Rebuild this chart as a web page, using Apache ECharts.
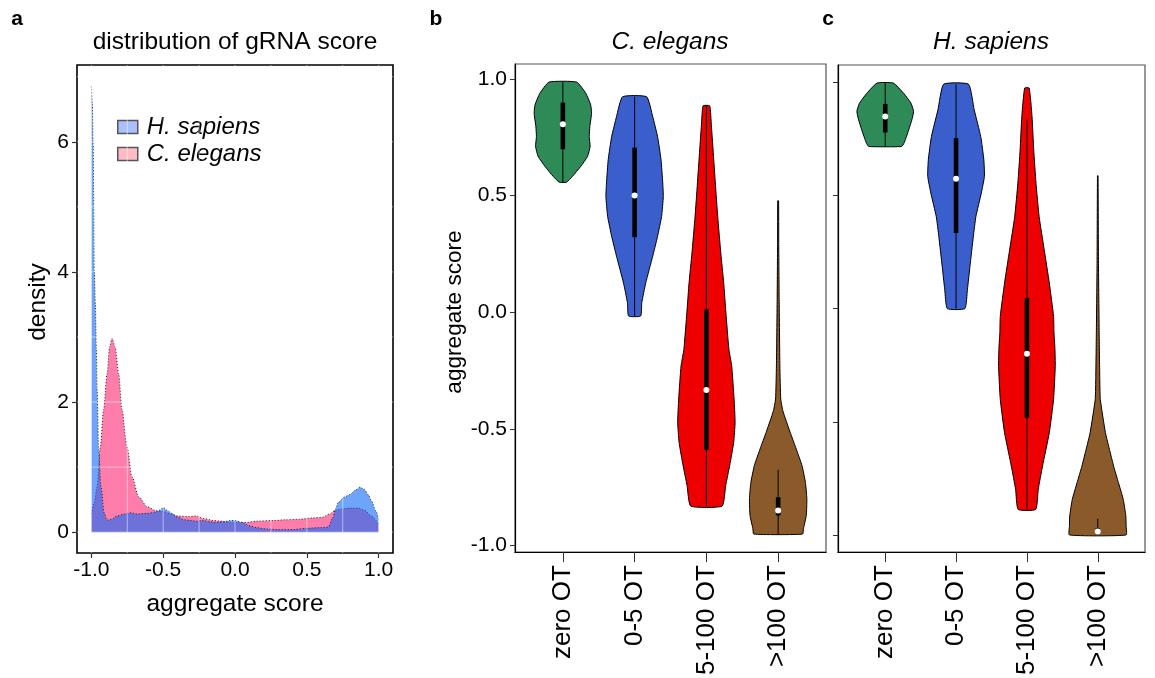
<!DOCTYPE html>
<html>
<head>
<meta charset="utf-8">
<script src="https://cdn.jsdelivr.net/npm/echarts@6/dist/echarts.min.js"></script>
<style>
html,body{margin:0;padding:0;background:#fff;}
#chart{width:1155px;height:678px;}
</style>
</head>
<body>
<div id="chart"></div>
<script>
// ---------- Panel a: density of aggregate score ----------
const densityTicksX = [-1.0, -0.5, 0.0, 0.5, 1.0];
const densityTicksY = [0, 2, 4, 6];
const densityGridX = [-1, -0.75, -0.5, -0.25, 0, 0.25, 0.5, 0.75, 1];
const densityGridY = [0, 1, 2, 3, 4, 5, 6, 7];

const sapiensDensity = [
  [-1.0, 6.85], [-0.993, 6.6], [-0.988, 6.0], [-0.979, 4.0], [-0.972, 3.5], [-0.965, 2.8],
  [-0.96, 2.2], [-0.949, 1.26], [-0.933, 0.7], [-0.91, 0.29], [-0.891, 0.185], [-0.86, 0.2],
  [-0.82, 0.25], [-0.77, 0.28], [-0.73, 0.3], [-0.68, 0.28], [-0.61, 0.29], [-0.55, 0.31],
  [-0.52, 0.34], [-0.5, 0.38], [-0.47, 0.33], [-0.44, 0.29], [-0.4, 0.23], [-0.35, 0.19],
  [-0.31, 0.18], [-0.27, 0.17], [-0.22, 0.18], [-0.18, 0.16], [-0.13, 0.15], [-0.08, 0.16],
  [-0.03, 0.18], [0.0, 0.18], [0.05, 0.15], [0.1, 0.1], [0.15, 0.07], [0.22, 0.05],
  [0.3, 0.04], [0.4, 0.04], [0.5, 0.06], [0.6, 0.07], [0.65, 0.08], [0.68, 0.22],
  [0.7, 0.36], [0.72, 0.46], [0.76, 0.54], [0.8, 0.58], [0.84, 0.65], [0.87, 0.69],
  [0.9, 0.66], [0.93, 0.57], [0.95, 0.48], [0.98, 0.33], [1.0, 0.2]
];

const elegansDensity = [
  [-1.0, 0.28], [-0.98, 0.45], [-0.96, 0.7], [-0.9375, 1.31], [-0.915, 1.88], [-0.89, 2.44],
  [-0.873, 2.85], [-0.856, 2.98], [-0.835, 2.85], [-0.81, 2.44], [-0.787, 1.88], [-0.752, 1.31],
  [-0.717, 0.85], [-0.67, 0.54], [-0.61, 0.39], [-0.55, 0.33], [-0.5, 0.32], [-0.45, 0.28],
  [-0.4, 0.25], [-0.33, 0.24], [-0.27, 0.25], [-0.22, 0.21], [-0.15, 0.18], [-0.1, 0.17],
  [-0.03, 0.15], [0.03, 0.15], [0.08, 0.15], [0.15, 0.17], [0.27, 0.18], [0.35, 0.19],
  [0.45, 0.2], [0.55, 0.22], [0.61, 0.23], [0.66, 0.28], [0.7, 0.34], [0.75, 0.36],
  [0.8, 0.37], [0.86, 0.37], [0.9, 0.34], [0.95, 0.25], [1.0, 0.12]
];

// ---------- Panels b, c: violins ----------
const otCategories = ['zero OT', '0-5 OT', '5-100 OT', '>100 OT'];
const scoreTicks = [-1.0, -0.5, 0.0, 0.5, 1.0];

// profiles: [score, relative density]
const elegansZeroOT = [[0.987,0.48],[0.939,0.80],[0.889,0.97],[0.853,1.0],[0.796,0.94],[0.753,0.92],[0.711,0.95],[0.668,0.86],[0.625,0.62],[0.582,0.33],[0.558,0.13]];
const elegansLowOT = [[0.924,0.42],[0.839,0.63],[0.753,0.80],[0.654,0.92],[0.554,0.98],[0.497,1.0],[0.411,0.94],[0.326,0.80],[0.24,0.63],[0.127,0.39],[0.041,0.25],[-0.016,0.21]];
const elegansMidOT = [[0.885,0.115],[0.8,0.174],[0.696,0.233],[0.55,0.314],[0.411,0.394],[0.25,0.505],[0.127,0.603],[0.0,0.679],[-0.159,0.784],[-0.23,0.882],[-0.372,0.965],[-0.472,1.0],[-0.558,0.951],[-0.657,0.812],[-0.743,0.672],[-0.831,0.547]];
const elegansHighOT = [[0.478,0.015],[0.3,0.02],[0.055,0.035],[-0.23,0.06],[-0.372,0.09],[-0.42,0.16],[-0.444,0.22],[-0.515,0.42],[-0.586,0.63],[-0.657,0.83],[-0.729,0.95],[-0.8,1.0],[-0.871,0.98],[-0.928,0.88],[-0.951,0.85]];

const sapiensZeroOT = [[0.996,0.29],[0.951,0.65],[0.907,0.91],[0.871,1.0],[0.834,0.94],[0.79,0.83],[0.753,0.73],[0.73,0.66],[0.716,0.58]];
const sapiensLowOT = [[0.991,0.44],[0.878,0.64],[0.76,0.87],[0.657,0.98],[0.584,1.0],[0.51,0.89],[0.407,0.70],[0.319,0.61],[0.187,0.49],[0.084,0.40],[0.0,0.31]];
const sapiensMidOT = [[0.974,0.08],[0.848,0.18],[0.701,0.24],[0.554,0.32],[0.407,0.43],[0.26,0.61],[0.113,0.79],[-0.034,0.94],[-0.107,0.955],[-0.181,0.99],[-0.255,1.0],[-0.401,0.94],[-0.548,0.79],[-0.696,0.55],[-0.798,0.40],[-0.887,0.31]];
const sapiensHighOT = [[0.587,0.01],[0.2,0.025],[-0.107,0.05],[-0.3,0.07],[-0.401,0.09],[-0.548,0.27],[-0.621,0.41],[-0.696,0.56],[-0.769,0.73],[-0.843,0.90],[-0.916,0.99],[-0.96,1.0],[-1.0,1.0]];

// box stats: [whisker low, q1, median, q3, whisker high]
const elegansBoxes = [
  [0.558, 0.699, 0.806, 0.899, 0.987],
  [-0.016, 0.322, 0.501, 0.706, 0.924],
  [-0.831, -0.589, -0.333, 0.012, 0.885],
  [-0.951, -0.871, -0.85, -0.793, -0.675]
];
const sapiensBoxes = [
  [0.716, 0.778, 0.848, 0.904, 0.996],
  [0.0, 0.334, 0.573, 0.753, 0.991],
  [-0.887, -0.482, -0.199, 0.047, 0.834],
  [-1.0, -0.995, -0.985, -0.97, -0.928]
];

// ---------- styling ----------
const FONT = "'Liberation Sans', Arial, Helvetica, sans-serif";
const violinColors = ['#2E8B57', '#3A5FCD', '#EE0000', '#8B5A2B'];
const elegansProfiles = [elegansZeroOT, elegansLowOT, elegansMidOT, elegansHighOT];
const sapiensProfiles = [sapiensZeroOT, sapiensLowOT, sapiensMidOT, sapiensHighOT];

function violinRenderer(profiles, boxes) {
  return function (params, api) {
    const i = params.dataIndex;
    const cat = api.value(0);
    const prof = profiles[i];
    const hw = 0.4;
    const right = prof.map(p => api.coord([cat + p[1] * hw, p[0]]));
    const left = prof.slice().reverse().map(p => api.coord([cat - p[1] * hw, p[0]]));
    const b = boxes[i];
    const top = api.coord([cat, b[4]]);
    const bot = api.coord([cat, b[0]]);
    const q3 = api.coord([cat, b[3]]);
    const q1 = api.coord([cat, b[1]]);
    const med = api.coord([cat, b[2]]);
    return {
      type: 'group',
      children: [
        { type: 'polygon', shape: { points: right.concat(left), smooth: 0.15 },
          style: { fill: violinColors[i], stroke: '#000', lineWidth: 1 } },
        { type: 'line', shape: { x1: top[0], y1: top[1], x2: bot[0], y2: bot[1] },
          style: { stroke: '#000', lineWidth: 1 } },
        { type: 'rect', shape: { x: q3[0] - 2.3, y: q3[1], width: 4.6, height: Math.max(q1[1] - q3[1], 1) },
          style: { fill: '#000' } },
        { type: 'circle', shape: { cx: med[0], cy: med[1], r: 3 }, style: { fill: '#fff' } }
      ]
    };
  };
}

function violinXAxis(gridIndex) {
  return {
    gridIndex, type: 'value', min: 1 / 3, max: 14 / 3,
    splitLine: { show: false },
    axisLine: { show: true, onZero: false, lineStyle: { color: '#000', width: 1.2 } },
    axisTick: { show: true, length: 10, customValues: [1, 2, 3, 4], lineStyle: { color: '#333', width: 1 } },
    axisLabel: { customValues: [1, 2, 3, 4], rotate: 90, margin: 13, fontSize: 26, color: '#000', fontFamily: FONT,
      formatter: v => otCategories[Math.round(v) - 1] }
  };
}

const chart = echarts.init(document.getElementById('chart'), null, { renderer: 'canvas' });

const option = {
  animation: false,
  backgroundColor: '#fff',
  grid: [
    { left: 77, top: 65, width: 316, height: 488, show: true, borderColor: '#000', borderWidth: 1.6, backgroundColor: 'transparent' },
    { left: 515, top: 64, width: 311, height: 489, show: true, borderColor: '#555', borderWidth: 1.2, backgroundColor: 'transparent' },
    { left: 838, top: 65, width: 307, height: 488, show: true, borderColor: '#555', borderWidth: 1.2, backgroundColor: 'transparent' }
  ],
  xAxis: [
    {
      gridIndex: 0, type: 'value', min: -1.1, max: 1.1,
      splitLine: { show: false }, axisLine: { show: false, onZero: false },
      axisTick: { show: true, length: 5, customValues: densityTicksX, lineStyle: { color: '#333', width: 1.2 } },
      axisLabel: { customValues: densityTicksX, formatter: v => v.toFixed(1), fontSize: 21, color: '#000', margin: 7, fontFamily: FONT }
    },
    violinXAxis(1),
    violinXAxis(2)
  ],
  yAxis: [
    {
      gridIndex: 0, type: 'value', min: -0.32, max: 7.18,
      splitLine: { show: false }, axisLine: { show: false, onZero: false },
      axisTick: { show: true, length: 5, customValues: densityTicksY, lineStyle: { color: '#333', width: 1.2 } },
      axisLabel: { customValues: densityTicksY, formatter: v => String(v), fontSize: 21, color: '#000', margin: 8, fontFamily: FONT }
    },
    {
      gridIndex: 1, type: 'value', min: -1.0285, max: 1.0645,
      splitLine: { show: false },
      axisLine: { show: true, onZero: false, lineStyle: { color: '#000', width: 1.2 } },
      axisTick: { show: true, length: 5, customValues: scoreTicks, lineStyle: { color: '#333', width: 1 } },
      axisLabel: { customValues: scoreTicks, formatter: v => v.toFixed(1), fontSize: 21, color: '#000', margin: 8, fontFamily: FONT }
    },
    {
      gridIndex: 2, type: 'value', min: -1.076, max: 1.076,
      splitLine: { show: false },
      axisLine: { show: true, onZero: false, lineStyle: { color: '#000', width: 1.2 } },
      axisTick: { show: true, length: 5, customValues: scoreTicks, lineStyle: { color: '#333', width: 1 } },
      axisLabel: { show: false }
    }
  ],
  legend: {
    left: 112, top: 110, orient: 'vertical', itemWidth: 20, itemHeight: 13, itemGap: 3,
    selectedMode: false,
    textStyle: { fontSize: 24, fontStyle: 'italic', color: '#000', fontFamily: FONT, padding: [0, 0, 0, 4] },
    data: [
      { name: 'H. sapiens', icon: 'rect', itemStyle: { color: '#a9c0fb', borderColor: '#555', borderWidth: 1.5 } },
      { name: 'C. elegans', icon: 'rect', itemStyle: { color: '#ffbcc6', borderColor: '#555', borderWidth: 1.5 } }
    ]
  },
  series: [
    {
      name: 'C. elegans', type: 'line', xAxisIndex: 0, yAxisIndex: 0, z: 2,
      data: elegansDensity, showSymbol: false, symbol: 'none', smooth: 0.3, smoothMonotone: 'x',
      itemStyle: { color: '#ffbcc6' },
      lineStyle: { color: '#222', width: 1, type: [1, 2] },
      areaStyle: { color: 'rgba(255,38,113,0.6)', opacity: 1 }
    },
    {
      name: 'H. sapiens', type: 'line', xAxisIndex: 0, yAxisIndex: 0, z: 3,
      data: sapiensDensity, showSymbol: false, symbol: 'none', smooth: 0.3, smoothMonotone: 'x',
      itemStyle: { color: '#a9c0fb' },
      lineStyle: { color: '#222', width: 1, type: [1, 2] },
      areaStyle: { color: 'rgba(13,105,247,0.6)', opacity: 1 }
    },
    {
      type: 'custom', xAxisIndex: 0, yAxisIndex: 0, z: 6, silent: true,
      data: densityGridX.map(v => [v, 0]),
      renderItem: (params, api) => {
        const cs = params.coordSys;
        const x = api.coord([api.value(0), 0])[0];
        return { type: 'line', shape: { x1: x, y1: cs.y, x2: x, y2: cs.y + cs.height },
          style: { stroke: 'rgba(255,255,255,0.5)', lineWidth: 1 } };
      }
    },
    {
      type: 'custom', xAxisIndex: 0, yAxisIndex: 0, z: 6, silent: true,
      data: densityGridY.map(v => [0, v]),
      renderItem: (params, api) => {
        const cs = params.coordSys;
        const y = api.coord([0, api.value(1)])[1];
        return { type: 'line', shape: { x1: cs.x, y1: y, x2: cs.x + cs.width, y2: y },
          style: { stroke: 'rgba(255,255,255,0.5)', lineWidth: 1 } };
      }
    },
    {
      type: 'custom', xAxisIndex: 1, yAxisIndex: 1, silent: true,
      data: elegansBoxes.map((b, i) => [i + 1, b[2]]),
      renderItem: violinRenderer(elegansProfiles, elegansBoxes)
    },
    {
      type: 'custom', xAxisIndex: 2, yAxisIndex: 2, silent: true,
      data: sapiensBoxes.map((b, i) => [i + 1, b[2]]),
      renderItem: violinRenderer(sapiensProfiles, sapiensBoxes)
    }
  ],
  graphic: [
    { type: 'text', x: 17, y: 19, style: { text: 'a', font: 'bold 21px ' + FONT, fill: '#000', textAlign: 'center', textVerticalAlign: 'middle' } },
    { type: 'text', x: 436, y: 19, style: { text: 'b', font: 'bold 21px ' + FONT, fill: '#000', textAlign: 'center', textVerticalAlign: 'middle' } },
    { type: 'text', x: 828, y: 19, style: { text: 'c', font: 'bold 21px ' + FONT, fill: '#000', textAlign: 'center', textVerticalAlign: 'middle' } },
    { type: 'text', x: 235, y: 42, style: { text: 'distribution of gRNA score', font: '24.5px ' + FONT, fill: '#000', textAlign: 'center', textVerticalAlign: 'middle' } },
    { type: 'text', x: 670, y: 42, style: { text: 'C. elegans', font: 'italic 24.5px ' + FONT, fill: '#000', textAlign: 'center', textVerticalAlign: 'middle' } },
    { type: 'text', x: 991, y: 42, style: { text: 'H. sapiens', font: 'italic 24.5px ' + FONT, fill: '#000', textAlign: 'center', textVerticalAlign: 'middle' } },
    { type: 'text', x: 235, y: 604, style: { text: 'aggregate score', font: '24.5px ' + FONT, fill: '#000', textAlign: 'center', textVerticalAlign: 'middle' } },
    { type: 'text', x: 38, y: 302, rotation: Math.PI / 2, style: { text: 'density', font: '24.5px ' + FONT, fill: '#000', textAlign: 'center', textVerticalAlign: 'middle' } },
    { type: 'text', x: 455, y: 312, rotation: Math.PI / 2, style: { text: 'aggregate score', font: '22.6px ' + FONT, fill: '#000', textAlign: 'center', textVerticalAlign: 'middle' } }
  ]
};

chart.setOption(option);
</script>
</body>
</html>
